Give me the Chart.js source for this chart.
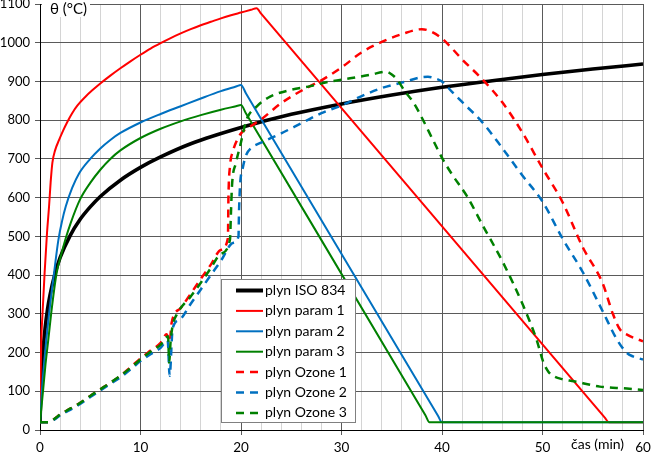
<!DOCTYPE html>
<html><head><meta charset="utf-8">
<script src="https://cdn.jsdelivr.net/npm/chart.js@4/dist/chart.umd.min.js"></script>
<style>html,body{margin:0;padding:0;background:#fff;}canvas{display:block;}</style>
</head><body>
<canvas id="c" width="651" height="453"></canvas>
<script>
// ---- DATA ----
const seriesLabels = ['plyn ISO 834','plyn param 1','plyn param 2','plyn param 3','plyn Ozone 1','plyn Ozone 2','plyn Ozone 3'];
const xTickStep = 2, xMajorStep = 10, yTickStep = 100;
const xMin = 0, xMax = 60, yMin = 0, yMax = 1100;

const isoT = [0,0.1,0.2,0.3,0.5,0.75,1,1.5,2,3,4,5,6,8,10,12,15,20,25,30,35,40,45,50,55,60];
const isoV = [20,108,163,203,261,312,349,404,445,502,544,576,603,645,678,705,739,781,815,842,865,885,902,918,932,945];

const p1T = [0,0.05,0.13,0.25,0.46,0.7,0.9,1.06,1.23,1.5,1.9,2.3,2.73,3.2,3.73,4.5,5.2,6.06,7,8,9,10,11,12,13,14,15,16,17,18,19,20,21,21.55,22,56.2,56.6,57,60];
const p1V = [20,130,234,300,406,510,577,640,690,722,749,773,796,818,838,860,877,896,915,934,952,969,985,999,1012,1024,1035,1045,1054,1063,1071,1078,1085,1089,1075,32,20,20,20];

const p2T = [0,0.2,0.4,0.63,0.9,1.15,1.4,1.83,2.2,2.56,3.2,3.9,5,6,7,8,10,12,14,16,18,19.5,20,20.5,39.6,40,40.5,60];
const p2V = [20,105,170,234,300,355,406,491,540,577,625,663,700,727,749,767,794,816,836,856,875,887,891,869,37,20,20,20];

const p3T = [0,0.3,0.55,0.83,1.2,1.66,2.1,2.56,3.06,4,5,6,7,8,10,12,14,16,18,19.5,20,20.5,38.35,38.75,39.2,60];
const p3V = [20,100,170,234,320,406,452,495,535,596,638,672,700,722,754,778,797,813,827,836,839,817,38,20,20,20];

const o1T = [0,0.8,1.6,2,3,4,5,6,7,8,9,10,11,12,12.6,12.9,13.1,14,15,16,17,18,18.7,18.75,18.9,19.2,19.6,20,21,22,24,26,28,30,32,34,36,38,39,40,41,42,44,46,48,50,52,54,56,57,57.7,58.5,60];
const o1V = [20,20,32,40,55,70,88,105,122,140,162,185,205,225,247,228,277,315,352,390,427,465,496,600,680,720,748,766,785,802,844,876,903,936,975,1002,1022,1035,1028,1011,985,957,906,846,768,676,588,472,378,300,260,245,229];

const o2T = [0,0.8,1.6,2,3,4,5,6,7,8,9,10,11,12,12.7,12.9,13.2,13.9,15,16,17,18,19.2,19.75,19.8,19.9,20.2,20.55,21,22,24,26,28,30,32,34,36,38,38.6,39.3,40,41,42,44,46,48,50,52,54,56,57.4,58.4,59,60];
const o2V = [20,20,30,38,52,67,85,102,119,136,156,178,196,212,232,140,262,285,326,363,400,437,483,500,560,629,680,712,728,742,766,792,818,838,862,883,897,911,912,908,900,873,847,795,728,657,590,494,408,306,234,199,190,182];

const o3T = [0,0.8,1.6,2,3,4,5,6,7,8,9,10,11,12,12.75,12.85,13.0,13.2,13.6,15,16,17,18,18.9,19.0,19.1,19.5,19.9,20.55,21.55,22.9,24.9,26.9,28.9,30.85,32.8,34.5,35.0,35.5,36.3,37.2,38.1,39.1,40.1,41,42.5,44.1,46.1,48.1,49.4,50.1,50.6,51.1,52,53.1,55.7,58.4,60];
const o3V = [20,20,32,40,55,70,88,105,122,140,160,182,202,220,242,174,230,270,298,345,380,418,455,491,560,629,690,732,801,835,861,878,888,900,908,917,925,918,906,875,844,801,749,698,660,603,526,431,320,234,174,150,139,131,126,112,107,103];

// ---- STYLES ----
const FONT = 'Lato, "Open Sans", sans-serif';
const RED = '#ff0000', BLUE = '#0070c0', GREEN = '#008000', BLACK = '#000000';
const styles = [
  {c: BLACK, w: 3.6, d: []},
  {c: RED, w: 2, d: []},
  {c: BLUE, w: 2, d: []},
  {c: GREEN, w: 2, d: []},
  {c: RED, w: 2.5, d: [8,6]},
  {c: BLUE, w: 2.5, d: [8,6]},
  {c: GREEN, w: 2.5, d: [8,6]}
];
const seriesT = [isoT,p1T,p2T,p3T,o1T,o2T,o3T];
const seriesV = [isoV,p1V,p2V,p3V,o1V,o2V,o3V];

function pts(t, v){ return t.map((x,i)=>({x:x, y:v[i]})); }

const datasets = seriesLabels.map((lab,i)=>({
  label: lab,
  data: pts(seriesT[i], seriesV[i]),
  borderColor: styles[i].c,
  backgroundColor: styles[i].c,
  borderWidth: styles[i].w,
  borderDash: styles[i].d,
  pointRadius: 0,
  cubicInterpolationMode: 'monotone',
  fill: false,
  order: seriesLabels.length - i
}));

const overlayPlugin = {
  id: 'overlay',
  afterDraw(chart){
    const ctx = chart.ctx, a = chart.chartArea;
    ctx.save();
    // y-axis title with white background
    ctx.fillStyle = '#ffffff';
    ctx.fillRect(a.left + 2, 0, 48, 17);
    ctx.fillStyle = '#000';
    ctx.font = '15px ' + FONT;
    ctx.textBaseline = 'middle';
    ctx.textAlign = 'left';
    ctx.fillText('θ (°C)', a.left + 10, 9);
    // x-axis title
    ctx.font = '14px ' + FONT;
    ctx.fillText('čas (min)', a.right - 72, 444);
    // legend box
    const lx = a.left + 181, ly = 279, lw = 135, lh = 144;
    ctx.fillStyle = '#ffffff';
    ctx.fillRect(lx, ly, lw, lh);
    ctx.strokeStyle = '#808080';
    ctx.lineWidth = 1;
    ctx.strokeRect(lx + 0.5, ly + 0.5, lw - 1, lh - 1);
    ctx.font = '14px ' + FONT;
    for (let i = 0; i < seriesLabels.length; i++) {
      const y = ly + 11.5 + i * 20.4;
      ctx.beginPath();
      ctx.strokeStyle = styles[i].c;
      ctx.lineWidth = i === 0 ? 4 : styles[i].w;
      ctx.setLineDash(styles[i].d);
      ctx.moveTo(lx + 15, y);
      ctx.lineTo(lx + 42, y);
      ctx.stroke();
      ctx.setLineDash([]);
      ctx.fillStyle = '#000';
      ctx.fillText(seriesLabels[i], lx + 44, y);
    }
    ctx.restore();
  }
};

new Chart(document.getElementById('c'), {
  type: 'line',
  data: { datasets },
  options: {
    responsive: false,
    animation: false,
    events: [],
    layout: { padding: { top: 4, right: 8, left: 0, bottom: 0 } },
    plugins: { legend: { display: false }, tooltip: { enabled: false }, title: { display: false } },
    scales: {
      x: {
        type: 'linear', min: xMin, max: xMax,
        ticks: {
          stepSize: xTickStep, autoSkip: false, maxRotation: 0, padding: 5,
          color: '#000', font: { family: FONT, size: 13.5 },
          callback: (v)=> (v % xMajorStep === 0 ? String(v) : '')
        },
        grid: {
          color: (ctx)=> (ctx.tick && ctx.tick.value % xMajorStep === 0 ? '#5a5a5a' : '#d4d4d4'),
          tickColor: (ctx)=> (ctx.tick && ctx.tick.value % xMajorStep === 0 ? '#5a5a5a' : 'rgba(0,0,0,0)'),
          tickLength: 5, lineWidth: 1
        },
        border: { display: true, color: '#000', width: 1 },
        afterFit: (s)=>{ s.height = 23; s.paddingLeft = 0; s.paddingRight = 0; }
      },
      y: {
        type: 'linear', min: yMin, max: yMax,
        ticks: {
          stepSize: yTickStep, padding: 5, color: '#000', font: { family: FONT, size: 13 },
          callback: (v)=> String(v)
        },
        grid: { color: '#5a5a5a', tickColor: '#5a5a5a', tickLength: 5, lineWidth: 1 },
        border: { display: true, color: '#000', width: 1 },
        afterFit: (s)=>{ s.width = 40; s.paddingTop = 0; s.paddingBottom = 0; }
      }
    }
  },
  plugins: [overlayPlugin]
});
</script>
</body></html>
